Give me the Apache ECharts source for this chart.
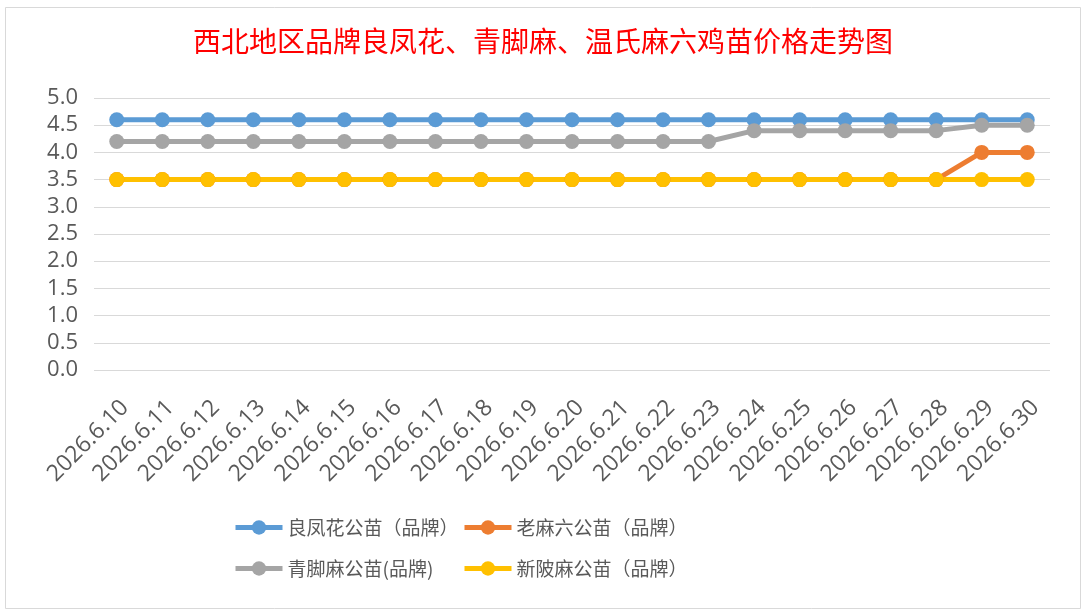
<!DOCTYPE html>
<html>
<head>
<meta charset="utf-8">
<script src="https://cdn.jsdelivr.net/npm/echarts@6/dist/echarts.min.js"></script>
<style>
html,body{margin:0;padding:0;background:#fff;}
#c{width:1086px;height:615px;}
</style>
</head>
<body>
<div id="c"></div>
<script>
const titleText = '西北地区品牌良凤花、青脚麻、温氏麻六鸡苗价格走势图';
const categories = ['2026.6.10','2026.6.11','2026.6.12','2026.6.13','2026.6.14','2026.6.15','2026.6.16','2026.6.17','2026.6.18','2026.6.19','2026.6.20','2026.6.21','2026.6.22','2026.6.23','2026.6.24','2026.6.25','2026.6.26','2026.6.27','2026.6.28','2026.6.29','2026.6.30'];
const seriesNames = ['良凤花公苗（品牌）','老麻六公苗（品牌）','青脚麻公苗(品牌)','新陂麻公苗（品牌）'];
const liangfenghua = [4.6,4.6,4.6,4.6,4.6,4.6,4.6,4.6,4.6,4.6,4.6,4.6,4.6,4.6,4.6,4.6,4.6,4.6,4.6,4.6,4.6];
const laomaliu = [3.5,3.5,3.5,3.5,3.5,3.5,3.5,3.5,3.5,3.5,3.5,3.5,3.5,3.5,3.5,3.5,3.5,3.5,3.5,4.0,4.0];
const qingjiaoma = [4.2,4.2,4.2,4.2,4.2,4.2,4.2,4.2,4.2,4.2,4.2,4.2,4.2,4.2,4.4,4.4,4.4,4.4,4.4,4.5,4.5];
const xinpima = [3.5,3.5,3.5,3.5,3.5,3.5,3.5,3.5,3.5,3.5,3.5,3.5,3.5,3.5,3.5,3.5,3.5,3.5,3.5,3.5,3.5];
const colors = ['#5B9BD5','#ED7D31','#A5A5A5','#FFC000'];
const values = [liangfenghua, laomaliu, qingjiaoma, xinpima];

const chart = echarts.init(document.getElementById('c'));
const legendPos = [[233,518],[462,518],[233,559],[462,559]];
chart.setOption({
  animation:false,
  backgroundColor:'#fff',
  color: colors,
  title:{
    text:titleText, left:'center', top:22,
    textStyle:{color:'#FF0000', fontSize:28, fontWeight:'normal', fontFamily:'Noto Sans CJK SC'}
  },
  graphic:[{type:'rect', shape:{x:5.5,y:7.5,width:1075,height:601}, style:{fill:null, stroke:'#D9D9D9', lineWidth:1}, silent:true}],
  legend: seriesNames.map((n,i)=>({
    data:[n], left:legendPos[i][0], top:legendPos[i][1], padding:0,
    itemWidth:47, itemHeight:18, itemGap:7,
    lineStyle:{width:5},
    textStyle:{color:'#595959', fontSize:19, fontFamily:'Noto Sans CJK SC'}
  })),
  grid:{left:94, right:36, top:98, bottom:245, containLabel:false},
  xAxis:{
    type:'category', data:categories, boundaryGap:true,
    axisLine:{show:false}, axisTick:{show:false},
    axisLabel:{rotate:45, color:'#595959', fontSize:23, fontFamily:'Open Sans', margin:26, interval:0, verticalAlign:'top'}
  },
  yAxis:{
    type:'value', min:0, max:5, interval:0.5,
    axisLine:{show:false}, axisTick:{show:false},
    splitLine:{lineStyle:{color:'#D9D9D9', width:1}},
    axisLabel:{color:'#595959', fontSize:22, fontFamily:'Open Sans', margin:16, formatter:v=>v.toFixed(1)}
  },
  series: seriesNames.map((n,i)=>({
    name:n, type:'line', data:values[i],
    symbol:'circle', symbolSize:15,
    lineStyle:{width:5, color:colors[i]},
    itemStyle:{color:colors[i]}
  }))
});
</script>
</body>
</html>
